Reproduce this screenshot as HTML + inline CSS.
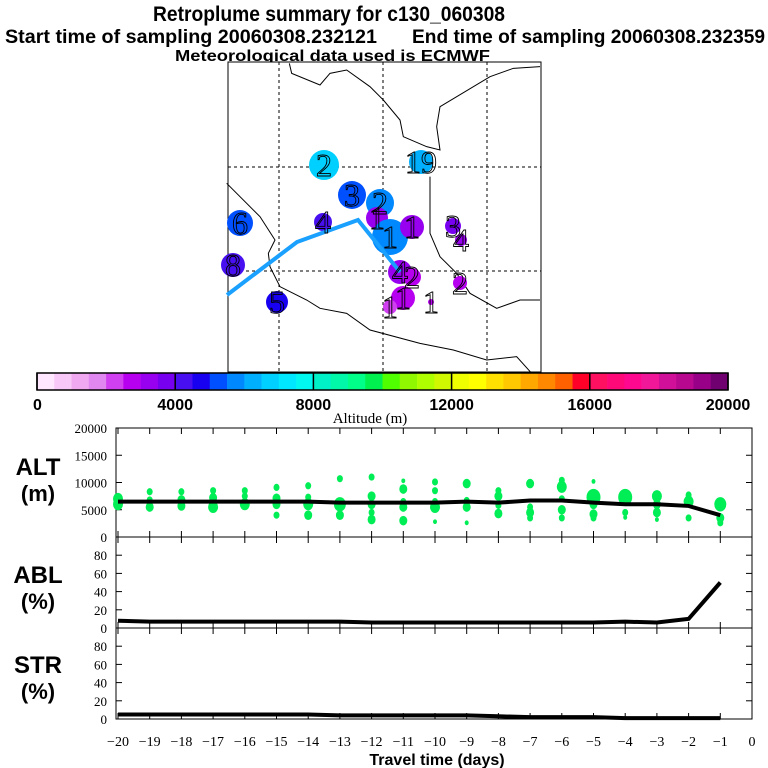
<!DOCTYPE html>
<html><head><meta charset="utf-8"><style>
html,body{margin:0;padding:0;background:#fff}
svg{display:block}
.t{font-family:"Liberation Sans",sans-serif;font-weight:bold}
.s{font-family:"Liberation Serif",serif}
</style></head><body>
<svg id="chart" width="768" height="768" viewBox="0 0 768 768">
<text class="t" x="153" y="21" font-size="21" textLength="352" lengthAdjust="spacingAndGlyphs">Retroplume summary for c130_060308</text>
<text class="t" x="5" y="43" font-size="19" textLength="372" lengthAdjust="spacingAndGlyphs">Start time of sampling 20060308.232121</text>
<text class="t" x="412" y="43" font-size="19" textLength="353" lengthAdjust="spacingAndGlyphs">End time of sampling 20060308.232359</text>
<text class="t" x="175" y="61" font-size="16" textLength="315" lengthAdjust="spacingAndGlyphs">Meteorological data used is ECMWF</text>
<g id="map"></g>
<g id="cbar"></g>
<g id="panels"></g>
</svg>
<script>
const NS="http://www.w3.org/2000/svg";
function mk(p,tag,a){const e=document.createElementNS(NS,tag);for(const k in a)e.setAttribute(k,a[k]);p.appendChild(e);return e;}
// ---------- colorbar data ----------
const cbColors=["#ffe8ff","#f8c8f8","#f0a8f0","#e088f0","#d040f0","#b800f0","#9800f0","#7800f0",
"#4810f0","#1800f0","#0050ff","#0088ff","#00b0ff","#00d0ff","#00e8ff","#00f8f0",
"#00f0c8","#00f8a8","#00ff88","#00f050","#50ff00","#90f800","#b0ff00","#d0f800",
"#f0ff00","#ffff00","#ffe000","#ffc800","#ffa800","#ff8800","#ff6000","#ff0028",
"#ff1060","#ff0878","#ff0890","#f01898","#d01098","#b80890","#980088","#700070"];
const cbTicks=[0,4000,8000,12000,16000,20000];
const CB={x0:37,x1:728,y0:373,y1:390,max:20000};
function colorFor(a){let i=Math.floor(a/500);if(i<0)i=0;if(i>39)i=39;return cbColors[i];}
// ---------- map data ----------
const plumeAlt=[6700,6200,5200,5700,3200,4200,5200,5700,3200,3700,3200,4200,3200,2700,2700,4700,2700,2200,2700];
const plumeLon=[324,421,352,380,377,323,240,390,412,453,461,233,400,412,460,277,403,390,431];
const plumeLat=[165,162,195,203,218,222,223,237,227,226,240,265,272,277,283,302,298,307,302];
const plumeR=[15,12,14,14,11,9,13,18,12,8,6,12,12,9,7,11,12,7,3];
const plumeLabel=["2","19","3","2","1","4","6","1","1","3","4","8","4","2","2","5","1","1","1"];
const trajLon=[227,297,358,400];
const trajLat=[295,242,220,272];
// ---------- time panel data ----------
const days=[-20,-19,-18,-17,-16,-15,-14,-13,-12,-11,-10,-9,-8,-7,-6,-5,-4,-3,-2,-1];
const altDots=[[[7000,5],[6000,5]],[[8300,3],[6800,3],[5500,4]],[[8300,3],[6800,4],[5700,4]],[[8500,3],[7200,4],[5500,5]],
[[8500,3],[7500,3],[6000,5]],[[9100,3],[7100,4],[6000,4],[4000,3]],[[9400,3],[7300,3],[6000,5],[4000,4]],[[10700,3],[6000,6],[4000,4]],
[[11000,3],[7500,4],[6000,4],[4500,3],[3200,4]],[[10300,2],[8800,4],[6500,3],[5500,4],[3000,4]],[[10100,3],[8500,3],[6500,3],[5500,5],[2800,2]],
[[9800,4],[6700,3],[5500,4],[2600,2]],[[8500,3],[7500,4],[5800,3],[4300,4]],[[9800,4],[5500,3],[4500,4],[3500,3]],
[[10400,3],[9200,5],[7000,3],[5000,4],[3500,3]],[[10200,2],[7300,7],[6000,4],[4200,4],[3500,3]],[[7300,7],[4500,3],[3600,2]],
[[7500,5],[6000,4],[4500,4],[3200,2]],[[7700,3],[6500,5],[3500,3]],[[6000,6],[3500,4],[2600,3]]];
const altMean=[6500,6500,6500,6500,6500,6500,6500,6300,6300,6300,6300,6500,6300,6700,6700,6300,6000,6000,5700,4000];
const ablMean=[8,7,7,7,7,7,7,7,6,6,6,6,6,6,6,6,7,6,10,50];
const strMean=[5,5,5,5,5,5,5,4,4,4,4,4,3,2,2,2,1,1,1,1];
const altTicks=[0,5000,10000,15000,20000];
const pctTicks=[0,20,40,60,80];
const xTicks=[-20,-19,-18,-17,-16,-15,-14,-13,-12,-11,-10,-9,-8,-7,-6,-5,-4,-3,-2,-1,0];

// ---------- draw map ----------
const map=document.getElementById('map');
mk(map,'rect',{x:228,y:62,width:313,height:310,fill:'#fff',stroke:'#000','stroke-width':1});
[279,383,487].forEach(x=>{const l=mk(map,'line',{x1:x,y1:62,x2:x,y2:372,stroke:'#000','stroke-dasharray':'3,3','stroke-width':1});});
[167,271].forEach(y=>{const l=mk(map,'line',{x1:228,y1:y,x2:541,y2:y,stroke:'#000','stroke-dasharray':'3,3','stroke-width':1});});
const coasts=[[[208,10],[215,40],[300,75],[330,40],[380,30],[450,80],[490,120],[540,180],[550,230],[620,260],[660,270],[650,200],[660,140],[810,50],[880,25],[960,20]],
[[20,370],[120,470],[165,540],[145,580],[150,620],[180,680],[260,720],[300,745],[380,760],[450,810],[600,850],[700,870],[800,900],[890,890],[935,940]],
[[630,350],[630,520],[660,590],[710,640],[750,700],[830,745],[900,720],[960,720]]];
coasts.forEach(c=>{const p=mk(map,'polyline',{points:c.map(q=>(220+q[0]/3)+','+(60+q[1]/3)).join(' '),fill:'none',stroke:'#000','stroke-width':1});});
for(let i=0;i<plumeR.length;i++){
 const c=mk(map,'circle',{cx:plumeLon[i],cy:plumeLat[i],r:plumeR[i],fill:colorFor(plumeAlt[i])});
 }
const tr=mk(map,'polyline',{points:trajLon.map((x,i)=>x+','+trajLat[i]).join(' '),fill:'none',stroke:'#1aa0ff','stroke-width':4});

for(let i=0;i<plumeR.length;i++){
 const t=mk(map,'text',{x:plumeLon[i],y:plumeLat[i]+11,'font-size':32,'text-anchor':'middle',class:'s',fill:'none',stroke:'#000','stroke-width':0.9});
 t.textContent=plumeLabel[i];}

// ---------- draw colorbar ----------
const cb=document.getElementById('cbar');
const segW=(CB.x1-CB.x0)/cbColors.length;
cbColors.forEach((c,i)=>{const r=mk(cb,'rect',{x:CB.x0+i*segW,y:CB.y0,width:segW+0.3,height:CB.y1-CB.y0,fill:c});});
mk(cb,'rect',{x:CB.x0,y:CB.y0,width:CB.x1-CB.x0,height:CB.y1-CB.y0,fill:'none',stroke:'#000','stroke-width':1.5});
cbTicks.forEach(v=>{const x=CB.x0+(CB.x1-CB.x0)*v/CB.max;
 mk(cb,'line',{x1:x,y1:CB.y0,x2:x,y2:CB.y1,stroke:'#000','stroke-width':1.5});
 const t=mk(cb,'text',{x:v===0?33:x,y:410,'font-size':16,class:'t','text-anchor':v===0?'start':'middle'});
 t.textContent=v;});
const at=mk(cb,'text',{x:370,y:423,'font-size':15,class:'s','text-anchor':'middle'});at.textContent='Altitude (m)';


// ---------- draw panels ----------
const P=document.getElementById('panels');
const X0=116,X1=752;
function xs(d){return 752+d*31.7;}
const panels=[{top:428,bot:537,max:20000,ticks:altTicks,name:'alt',l1:'ALT',l2:'(m)',ly:475},
{top:537,bot:628,max:100,ticks:pctTicks,name:'abl',l1:'ABL',l2:'(%)',ly:583},
{top:628,bot:719,max:100,ticks:pctTicks,name:'str',l1:'STR',l2:'(%)',ly:673}];
panels.forEach(p=>{
 p.ys=v=>p.bot-(p.bot-p.top)*v/p.max;
 const r=mk(P,'rect',{x:X0,y:p.top,width:X1-X0,height:p.bot-p.top,fill:'none',stroke:'#000','stroke-width':1});
 
 p.ticks.forEach(v=>{const y=p.ys(v);
  mk(P,'line',{x1:X0,y1:y,x2:X0+6,y2:y,stroke:'#000'});mk(P,'line',{x1:X1-6,y1:y,x2:X1,y2:y,stroke:'#000'});
  const t=mk(P,'text',{x:107,y:y+5,'font-size':13,class:'s','text-anchor':'end'});t.textContent=v;
  });
 xTicks.forEach(d=>{const x=xs(d);mk(P,'line',{x1:x,y1:p.top,x2:x,y2:p.top+6,stroke:'#000'});mk(P,'line',{x1:x,y1:p.bot-6,x2:x,y2:p.bot,stroke:'#000'});});
 const a=mk(P,'text',{x:38,y:p.ly,'font-size':24,class:'t','text-anchor':'middle'});a.textContent=p.l1;
 
 const b=mk(P,'text',{x:38,y:p.ly+26,'font-size':22,class:'t','text-anchor':'middle'});b.textContent=p.l2;
 
});
// alt dots
days.forEach((d,i)=>{altDots[i].forEach(q=>{
 const c=mk(P,'ellipse',{cx:xs(d),cy:panels[0].ys(q[0]),rx:q[1],ry:q[1]*1.2,fill:'#00ee55'});
 });});
function line(p,vals,name){
 const l=mk(P,'polyline',{points:days.map((d,i)=>xs(d)+','+p.ys(vals[i])).join(' '),fill:'none',stroke:'#000','stroke-width':4});
 }
line(panels[0],altMean,'alt-mean-line');
line(panels[1],ablMean,'abl-mean-line');
line(panels[2],strMean,'str-mean-line');
xTicks.forEach(d=>{const t=mk(P,'text',{x:xs(d),y:746,'font-size':14,class:'s','text-anchor':'middle'});
 t.textContent=d<0?'\u2212'+(-d):String(d);});
const xt=mk(P,'text',{x:437,y:765,'font-size':16,class:'t','text-anchor':'middle'});xt.textContent='Travel time (days)';

</script>
</body></html>
